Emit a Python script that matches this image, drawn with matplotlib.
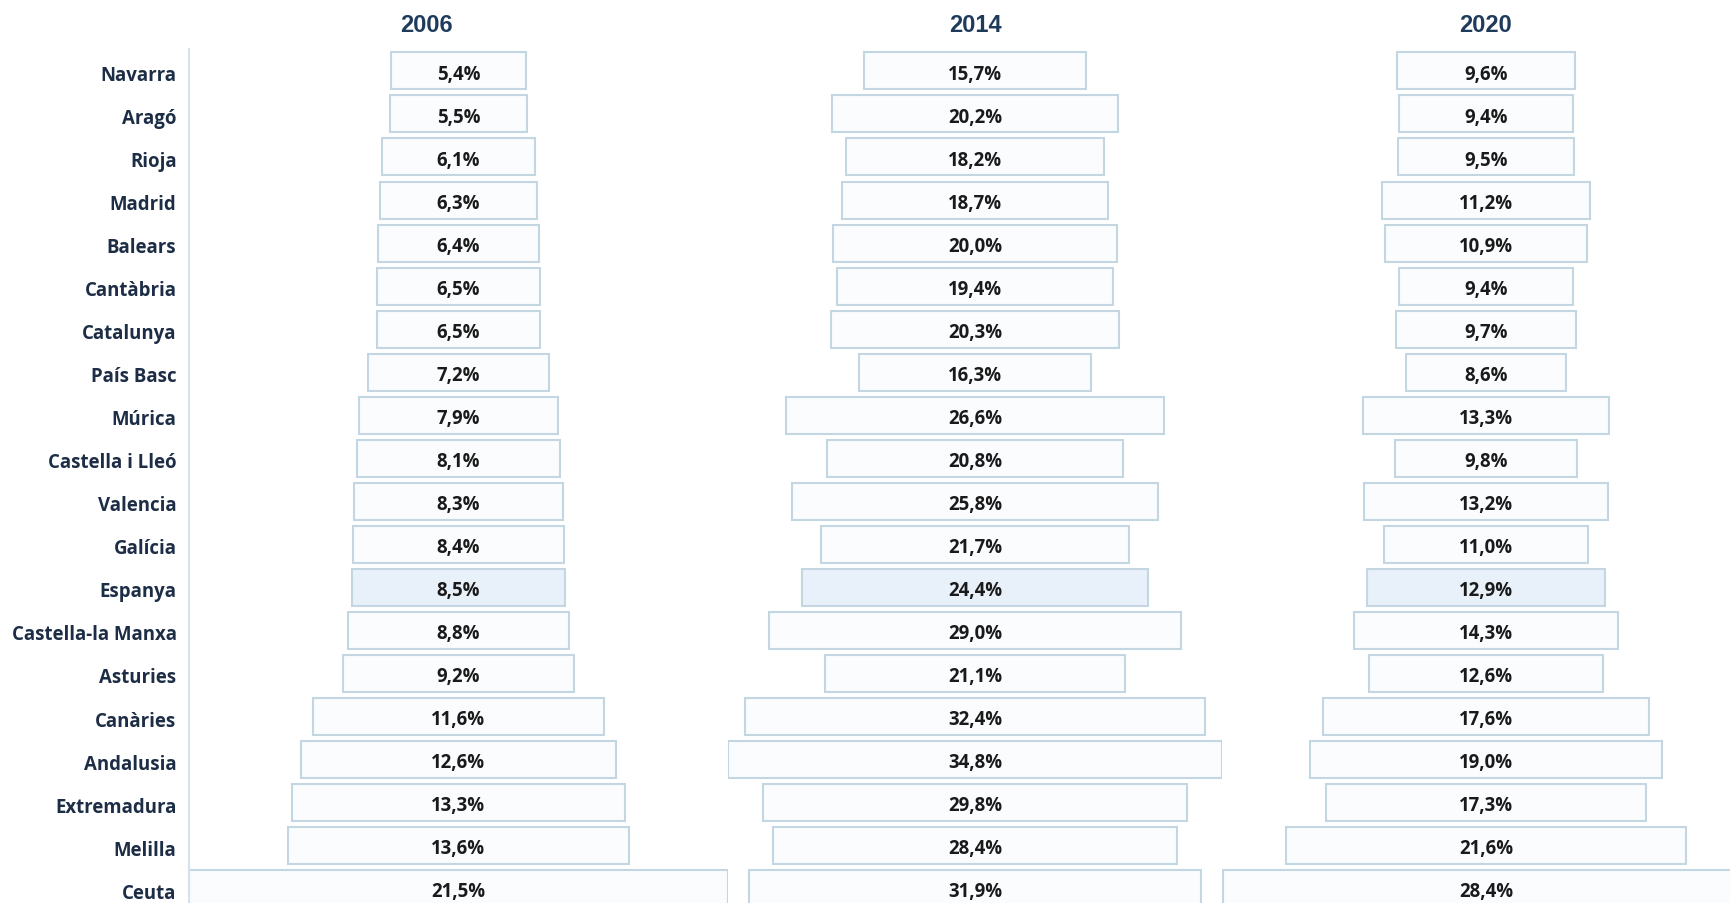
import matplotlib
matplotlib.use("Agg")
import matplotlib.pyplot as plt
import numpy as np

regions = ["Navarra", "Aragó", "Rioja", "Madrid", "Balears", "Cantàbria", "Catalunya",
           "País Basc", "Múrica", "Castella i Lleó", "Valencia", "Galícia", "Espanya",
           "Castella-la Manxa", "Asturies", "Canàries", "Andalusia", "Extremadura",
           "Melilla", "Ceuta"]
years = ["2006", "2014", "2020"]
v2006 = [5.4, 5.5, 6.1, 6.3, 6.4, 6.5, 6.5, 7.2, 7.9, 8.1, 8.3, 8.4, 8.5, 8.8, 9.2,
         11.6, 12.6, 13.3, 13.6, 21.5]
v2014 = [15.7, 20.2, 18.2, 18.7, 20.0, 19.4, 20.3, 16.3, 26.6, 20.8, 25.8, 21.7, 24.4,
         29.0, 21.1, 32.4, 34.8, 29.8, 28.4, 31.9]
v2020 = [9.6, 9.4, 9.5, 11.2, 10.9, 9.4, 9.7, 8.6, 13.3, 9.8, 13.2, 11.0, 12.9,
         14.3, 12.6, 17.6, 19.0, 17.3, 21.6, 28.4]
highlight = "Espanya"

W, H = 1730, 904
fig = plt.figure(figsize=(W / 100, H / 100), dpi=100)
fig.patch.set_facecolor("white")

# axes layout in pixels: (left, right, xlim)
top_px, bot_px = 50, 904
panels = [
    (189, 728, (-10.75, 10.75)),
    (728, 1222, (-17.4, 17.4)),
    (1222, 1730, (-14.27, 13.19)),
]
title_x_px = [426, 975, 1486]

edge_col = "#c3d6e2"
fill_col = "#fafcfe"
hi_col = "#e8f0fa"
label_col = "#1c2d45"
val_col = "#1a1a1a"

y = np.arange(len(regions))
for i, (vals, (l, r, xl)) in enumerate(zip([v2006, v2014, v2020], panels)):
    ax = fig.add_axes([l / W, 1 - bot_px / H, (r - l) / W, (bot_px - top_px) / H])
    ax.set_facecolor("none")
    vals = np.array(vals)
    colors = [hi_col if reg == highlight else fill_col for reg in regions]
    ax.barh(y, vals, left=-vals / 2, height=0.86, color=colors,
            edgecolor=edge_col, linewidth=1.5)
    for yy, v in zip(y, vals):
        ax.text(0, yy + 0.06, f"{v:.1f}%".replace(".", ","), ha="center", va="center",
                fontsize=13.4, fontweight="bold", color=val_col, family="Open Sans")
    ax.set_xlim(*xl)
    ax.set_ylim(19.34, -0.51)
    ax.set_xticks([])
    for s in ["top", "right", "bottom"]:
        ax.spines[s].set_visible(False)
    if i == 0:
        ax.spines["left"].set_color("#d3e2ee")
        ax.spines["left"].set_linewidth(1.5)
        ax.set_yticks(y + 0.04)
        ax.set_yticklabels(regions, fontsize=13.4, fontweight="bold", color=label_col,
                           family="Open Sans")
        ax.tick_params(axis="y", length=0, pad=9)
    else:
        ax.spines["left"].set_visible(False)
        ax.set_yticks([])
    fig.text(title_x_px[i] / W, 1 - 26 / H, years[i], ha="center", va="center",
             fontsize=17, fontweight="bold", color="#1f3b5c", family="Liberation Sans")

fig.savefig("out.png", dpi=100, facecolor="white")
